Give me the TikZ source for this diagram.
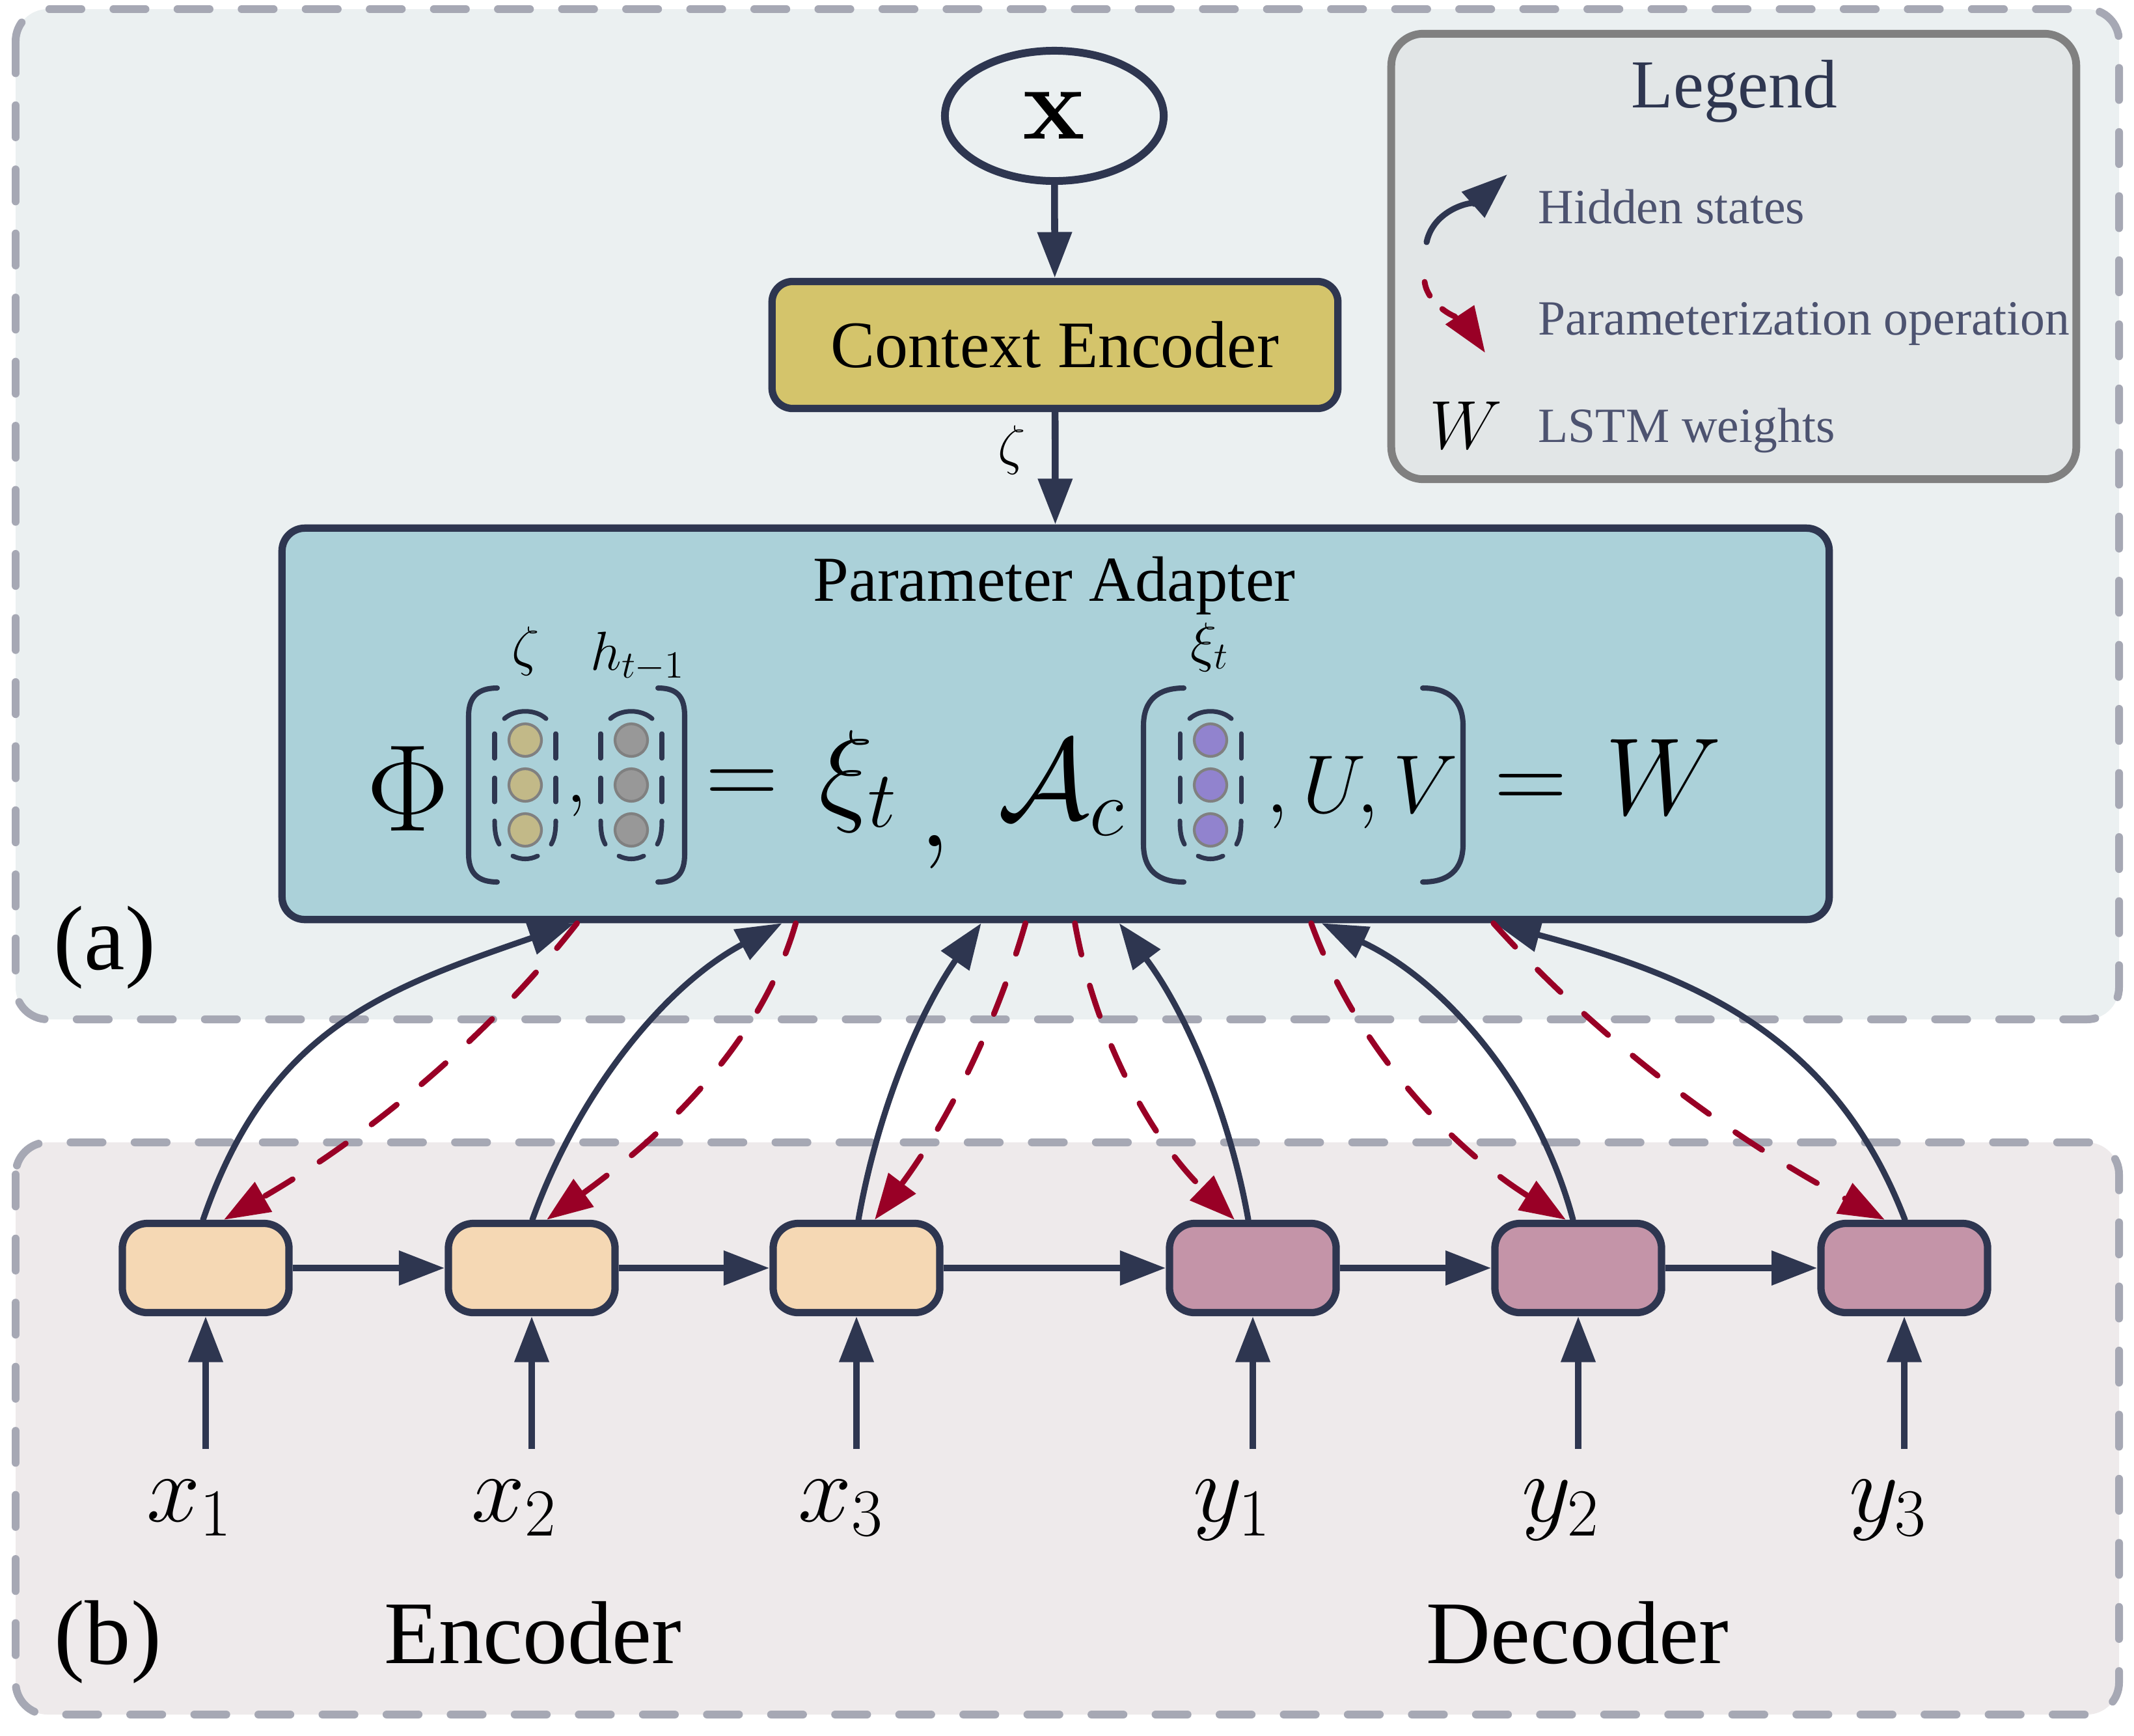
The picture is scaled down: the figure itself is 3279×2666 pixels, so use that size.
\RequirePackage{fix-cm}
\documentclass[tikz,border=0pt]{standalone}
\usepackage[no-math]{fontspec}
\setmainfont{Liberation Serif}
\usetikzlibrary{arrows.meta,calc,shapes.geometric}
\definecolor{navy}{RGB}{46,54,80}
\definecolor{pred}{RGB}{153,0,38}
\definecolor{adfill}{RGB}{171,209,217}
\definecolor{cefill}{RGB}{212,196,107}
\definecolor{encfill}{RGB}{245,216,180}
\definecolor{decfill}{RGB}{196,148,168}
\definecolor{regafill}{RGB}{235,240,241}
\definecolor{regbfill}{RGB}{238,234,235}
\definecolor{legfill}{RGB}{226,230,231}
\definecolor{legborder}{RGB}{128,128,128}
\definecolor{dashgray}{RGB}{166,168,180}
\definecolor{legtext}{RGB}{77,83,112}
\definecolor{cyel}{RGB}{194,185,136}
\definecolor{cgray}{RGB}{152,152,152}
\definecolor{cpur}{RGB}{145,131,206}
\definecolor{cbord}{RGB}{128,128,128}
\tikzset{
 region/.style={draw=dashgray, line width=3.4pt, line cap=round, dash pattern=on 14pt off 14pt, rounded corners=14pt},
 boxstyle/.style={draw=navy, line width=3.2pt, inner sep=0pt},
 cell/.style={boxstyle, minimum width=2.56cm, minimum height=1.37cm, rounded corners=11pt},
 enccell/.style={cell, fill=encfill},
 deccell/.style={cell, fill=decfill},
 harrow/.style={draw=navy, line width=3pt, -{Triangle[length=20pt,width=14.5pt]}},
 hcurve/.style={draw=navy, line width=2.6pt, line cap=round, -{Triangle[length=20pt,width=14.5pt]}},
 parrow/.style={draw=pred, line width=2.5pt, line cap=round, dash pattern=on 14pt off 14pt, -{Triangle[length=20pt,width=14.5pt]}},
 vdash/.style={draw=navy, line width=2pt, line cap=round},
 brk/.style={draw=navy, line width=2.3pt, line cap=round},
 circ/.style={draw=cbord, line width=1.2pt},
 lbl/.style={inner sep=0pt},
 legtxt/.style={lbl, anchor=base west, text=legtext, font=\fontsize{21.5}{26}\selectfont},
}
\newcommand\vecgrp[2]{%
 \begin{scope}[shift={(#1,#2)}]
  \draw[vdash] (-32,-102) .. controls (-15,-117) and (15,-117) .. (32,-102);
  \draw[vdash] (-19,109) .. controls (-7,115) and (7,115) .. (19,109);
  \draw[vdash] (-47,-79) -- (-47,-41);
  \draw[vdash] (-47,-11) -- (-47,26);
  \draw[vdash] (-47,55) .. controls (-47,72) and (-45,82) .. (-40,91);
  \draw[vdash] (47,-79) -- (47,-41);
  \draw[vdash] (47,-11) -- (47,26);
  \draw[vdash] (47,55) .. controls (47,72) and (45,82) .. (40,91);
 \end{scope}}
\begin{document}
\begin{tikzpicture}[x=0.01cm,y=-0.01cm]
\useasboundingbox (0,0) rectangle (3279,2666);
\fill[white] (0,0) rectangle (3279,2666);
% regions
\draw[region, fill=regafill] (24,14) rectangle (3256,1566);
\draw[region, fill=regbfill] (24,1755) rectangle (3256,2634);
\node[lbl] (la) at (161,1456) {\fontsize{40}{46}\selectfont (a)};
\node[lbl] (lb) at (166,2523) {\fontsize{40}{46}\selectfont (b)};

% top part
\node[ellipse, draw=navy, line width=3.4pt, fill=regafill, minimum width=3.36cm, minimum height=2cm, inner sep=0pt] (xn) at (1620,178) {\fontsize{46}{50}\selectfont$\mathbf{x}$};
\node[boxstyle, fill=cefill, rounded corners=9pt, minimum width=8.69cm, minimum height=1.95cm] (ce) at (1621,530) {\fontsize{29}{34}\selectfont Context Encoder};
\node[boxstyle, fill=adfill, rounded corners=10pt, minimum width=23.76cm, minimum height=6.01cm] (pa) at (1622,1112) {};
\node[lbl, anchor=base] (pat) at (1620,923) {\fontsize{28}{34}\selectfont Parameter Adapter};
\draw[harrow] (xn) -- (ce);
\draw[harrow] (ce) -- (pa);
\node[lbl] (zl) at (1555,691) {\fontsize{24}{28}\selectfont$\zeta$};

% legend
\node[draw=legborder, fill=legfill, line width=3.4pt, rounded corners=14pt, minimum width=10.52cm, minimum height=6.84cm, inner sep=0pt] (lg) at (2664,394) {};
\node[lbl, anchor=base, text=navy] (lgt) at (2665,165) {\fontsize{30}{36}\selectfont Legend};
\node[legtxt] (lhid) at (2363,343) {Hidden states};
\node[legtxt] (lpar) at (2363,514) {Parameterization operation};
\node[legtxt] (llstm) at (2363,679) {LSTM weights};
\node[lbl, anchor=base] (lw) at (2252,689) {\fontsize{30}{36}\selectfont$W$};
\coordinate (lhs) at (2192,372);
\coordinate (lhe) at (2316,268);
\draw[hcurve] (lhs) .. controls +(12,-55) and +(-45,40) .. (lhe);
\coordinate (lps) at (2189,433);
\coordinate (lpe) at (2282,542);
\draw[parrow, dash pattern=on 6.5pt off 8pt] (lps) .. controls +(5,40) and +(-30,-45) .. (lpe);

% formula
\node[lbl, anchor=base] (phi) at (627,1276) {\fontsize{54}{60}\selectfont$\Phi$};
\draw[brk] (764,1057) .. controls (735,1057) and (720,1070) .. (720,1100) -- (720,1312) .. controls (720,1342) and (735,1355) .. (764,1355);
\draw[brk] (1011,1057) .. controls (1040,1057) and (1052,1070) .. (1052,1100) -- (1052,1312) .. controls (1052,1342) and (1040,1355) .. (1011,1355);
\draw[brk] (1819,1057) .. controls (1780,1057) and (1757,1075) .. (1757,1115) -- (1757,1297) .. controls (1757,1337) and (1780,1355) .. (1819,1355);
\draw[brk] (2186,1057) .. controls (2225,1057) and (2248,1075) .. (2248,1115) -- (2248,1297) .. controls (2248,1337) and (2225,1355) .. (2186,1355);
\vecgrp{807}{1206}
\vecgrp{970}{1206}
\vecgrp{1860}{1206}
\foreach \yy in {1137,1206,1275} {
 \draw[circ, fill=cyel] (807,\yy) circle[radius=25];
 \draw[circ, fill=cgray] (970,\yy) circle[radius=25];
 \draw[circ, fill=cpur] (1860,\yy) circle[radius=25];
}
\node[lbl, anchor=base] (lzeta) at (808,1021) {\fontsize{24}{28}\selectfont$\zeta$};
\node[lbl, anchor=base] (lht) at (980,1029) {\fontsize{24}{28}\selectfont$h_{t-1}$};
\node[lbl, anchor=base] (lxit) at (1859,1015) {\fontsize{24}{28}\selectfont$\xi_t$};
\node[lbl, anchor=base] (cm0) at (886,1232) {\fontsize{32}{36}\selectfont$,$};
\node[lbl, anchor=base] (eq1) at (1140,1237) {\fontsize{44}{50}\selectfont$=$};
\node[lbl, anchor=base west] (xi) at (1258,1244) {\fontsize{50}{56}\selectfont$\xi_t$};
\node[lbl, anchor=base] (cm1) at (1436,1300) {\fontsize{50}{56}\selectfont$,$};
\node[lbl, anchor=base west] (ac) at (1533,1257) {\fontsize{50}{56}\selectfont$\mathcal{A}_c$};
\node[lbl, anchor=base west] (uv) at (1945,1248) {\fontsize{36}{40}\selectfont$,U,V$};
\node[lbl, anchor=base] (eq2) at (2352,1244) {\fontsize{44}{50}\selectfont$=$};
\node[lbl, anchor=base] (wout) at (2556,1251) {\fontsize{48}{54}\selectfont$W$};

% cells
\node[enccell] (c1) at (316,1948) {};
\node[enccell] (c2) at (817,1948) {};
\node[enccell] (c3) at (1316,1948) {};
\node[deccell] (c4) at (1925,1948) {};
\node[deccell] (c5) at (2425,1948) {};
\node[deccell] (c6) at (2926,1948) {};
\draw[harrow] (c1) -- (c2);
\draw[harrow] (c2) -- (c3);
\draw[harrow] (c3) -- (c4);
\draw[harrow] (c4) -- (c5);
\draw[harrow] (c5) -- (c6);

% inputs
\foreach \n/\xx in {1/316,2/817,3/1316,4/1925,5/2425,6/2926} {
 \coordinate (i\n) at (\xx,2226);
 \draw[harrow] (i\n) -- (c\n);
}
\node[lbl, anchor=base] (lx1) at (291,2337) {\fontsize{42}{48}\selectfont$x_1$};
\node[lbl, anchor=base] (lx2) at (790,2337) {\fontsize{42}{48}\selectfont$x_2$};
\node[lbl, anchor=base] (lx3) at (1292,2337) {\fontsize{42}{48}\selectfont$x_3$};
\node[lbl, anchor=base] (ly1) at (1893,2337) {\fontsize{42}{48}\selectfont$y_1$};
\node[lbl, anchor=base] (ly2) at (2398,2337) {\fontsize{42}{48}\selectfont$y_2$};
\node[lbl, anchor=base] (ly3) at (2901,2337) {\fontsize{42}{48}\selectfont$y_3$};
\node[lbl, anchor=base] (enc) at (819,2555) {\fontsize{39}{44}\selectfont Encoder};
\node[lbl, anchor=base] (dec) at (2424,2555) {\fontsize{39}{44}\selectfont Decoder};

% hidden states (solid) and parameterization (dashed)
\draw[hcurve] ($(c1.north)+(-4,0)$) .. controls +(101,-293) and +(-293,101) .. ($(pa.south west)+(455,0)$);
\draw[hcurve] ($(c2.north)+(1,0)$) .. controls +(70,-194) and +(-182,97) .. ($(pa.south west)+(774,0)$);
\draw[hcurve] ($(c3.north)+(3,0)$) .. controls +(29,-165) and +(-96,138) .. ($(pa.south west)+(1080,0)$);
\draw[hcurve] ($(c4.north)+(-7,0)$) .. controls +(-29,-165) and +(101,134) .. ($(pa.south west)+(1292,0)$);
\draw[hcurve] ($(c5.north)+(-8,0)$) .. controls +(-54,-202) and +(189,88) .. ($(pa.south west)+(1603,0)$);
\draw[hcurve] ($(c6.north)+(1,0)$) .. controls +(-111,-289) and +(299,80) .. ($(pa.south west)+(1869,0)$);
\draw[parrow] ($(pa.south west)+(459,0)$) .. controls +(-148,189) and +(208,-120) .. ($(c1.north)+(28,0)$);
\draw[parrow] ($(pa.south west)+(795,0)$) .. controls +(-56,195) and +(164,-119) .. ($(c2.north)+(23,0)$);
\draw[parrow] ($(pa.south west)+(1148,0)$) .. controls +(-48,166) and +(104,-138) .. ($(c3.north)+(28,0)$);
\draw[parrow] ($(pa.south west)+(1224,0)$) .. controls +(31,175) and +(-128,-124) .. ($(c4.north)+(-28,0)$);
\draw[parrow] ($(pa.south west)+(1587,0)$) .. controls +(70,193) and +(-174,-109) .. ($(c5.north)+(-19,0)$);
\draw[parrow] ($(pa.south west)+(1867,0)$) .. controls +(170,189) and +(-224,-119) .. ($(c6.north)+(-30,0)$);
\end{tikzpicture}
\end{document}
